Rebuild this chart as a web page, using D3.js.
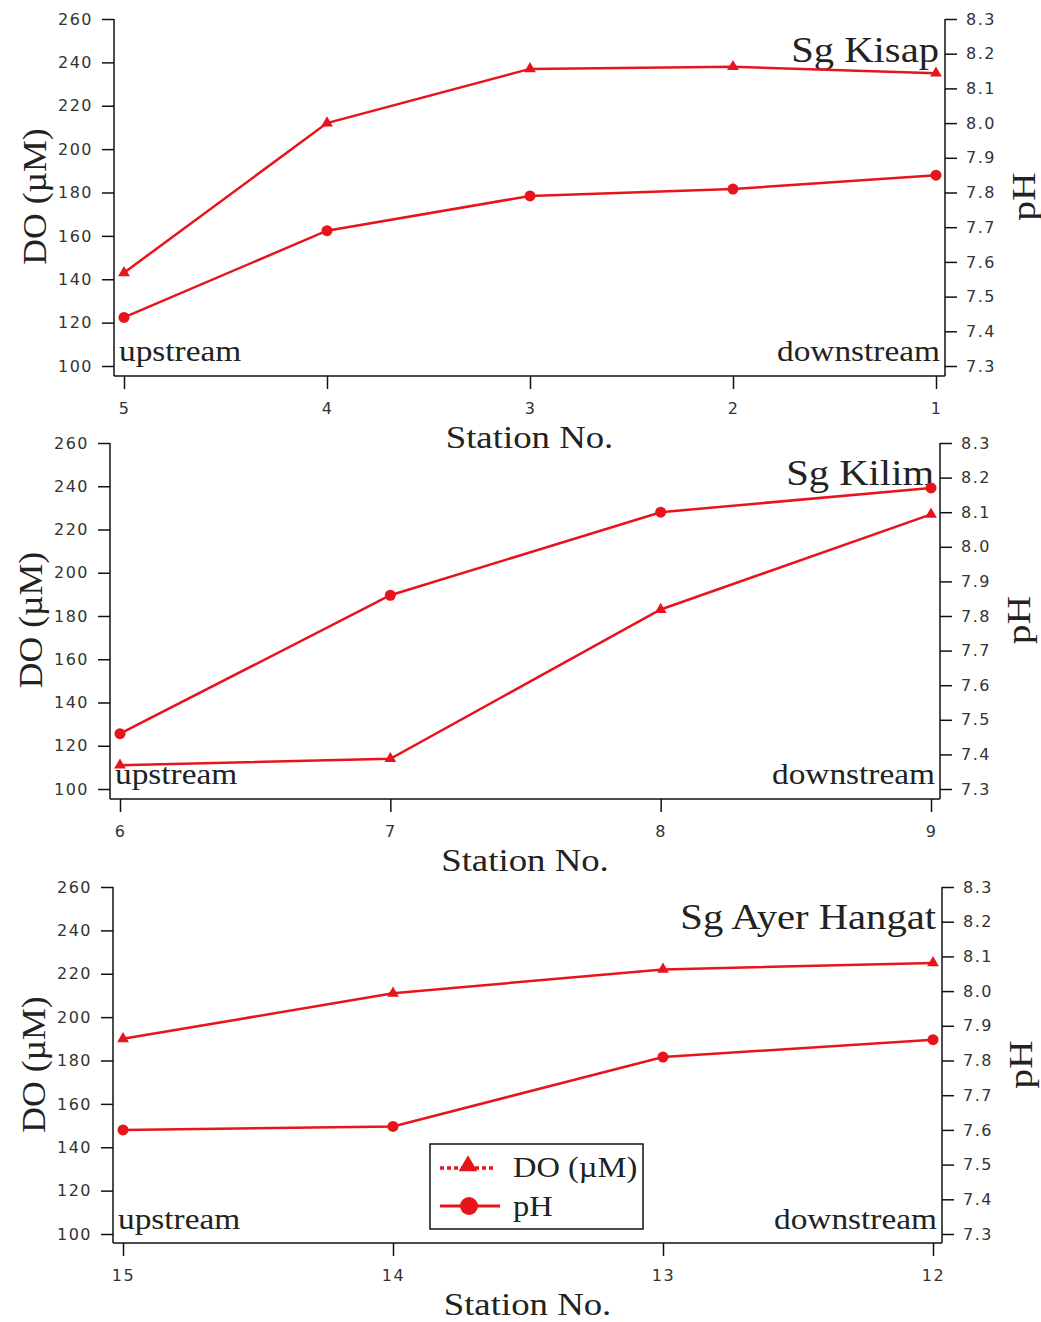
<!DOCTYPE html>
<html>
<head>
<meta charset="utf-8">
<script src="https://cdn.jsdelivr.net/npm/d3@7"></script>
<style>
  body { margin: 0; background: #fff; }
  svg { display: block; }
</style>
</head>
<body>
<div id="chart"></div>
<script>
// values
const doTicks = [100, 120, 140, 160, 180, 200, 220, 240, 260];
const phTicks = [7.3, 7.4, 7.5, 7.6, 7.7, 7.8, 7.9, 8.0, 8.1, 8.2, 8.3];

const kisapStations = ["5", "4", "3", "2", "1"];
const kisapDO = [143, 212, 237, 238, 235];
const kisapPH = [7.44, 7.69, 7.79, 7.81, 7.85];

const kilimStations = ["6", "7", "8", "9"];
const kilimDO = [111, 114, 183, 227];
const kilimPH = [7.46, 7.86, 8.10, 8.17];

const ayerStations = ["15", "14", "13", "12"];
const ayerDO = [190, 211, 222, 225];
const ayerPH = [7.60, 7.61, 7.81, 7.86];

const riverNames = ["Sg Kisap", "Sg Kilim", "Sg Ayer Hangat"];

const width = 1041, height = 1322;
const red = "#e8141c";
const serif = "'Liberation Serif', 'Times New Roman', serif";
const sans = "'DejaVu Sans', Verdana, sans-serif";

// panel frames (pixel layout only)
const frames = [
  {left: 114, right: 945, top: 19, bottom100: 366, axisY: 376, titleY: 62},
  {left: 110, right: 940, top: 443, bottom100: 789, axisY: 799, titleY: 485},
  {left: 113, right: 942, top: 887, bottom100: 1234, axisY: 1243, titleY: 929}
];

const panels = [
  {name: riverNames[0], stations: kisapStations, doVals: kisapDO, phVals: kisapPH},
  {name: riverNames[1], stations: kilimStations, doVals: kilimDO, phVals: kilimPH},
  {name: riverNames[2], stations: ayerStations, doVals: ayerDO, phVals: ayerPH, legend: true}
];

const svg = d3.select("#chart").append("svg")
  .attr("width", width)
  .attr("height", height);

// the original serif looks a little wider than Liberation Serif
function stretch(sel, k) {
  sel.each(function() {
    const len = this.getComputedTextLength();
    d3.select(this).attr("textLength", len * k).attr("lengthAdjust", "spacingAndGlyphs");
  });
  return sel;
}

function serifText(g, size) {
  return g.append("text")
    .style("font-family", serif)
    .style("font-size", size + "px")
    .attr("fill", "#222");
}

const tri = d3.symbol().type(d3.symbolTriangle).size(60);

panels.forEach((p, i) => {
  const f = frames[i];
  const g = svg.append("g");

  const x = d3.scalePoint()
    .domain(p.stations)
    .range([f.left + 10, f.right - 9]);
  const yDO = d3.scaleLinear().domain([100, 260]).range([f.bottom100, f.top]);
  const yPH = d3.scaleLinear().domain([7.3, 8.3]).range([f.bottom100, f.top]);

  // left axis
  const la = g.append("g")
    .attr("transform", `translate(${f.left},0)`)
    .call(d3.axisLeft(yDO).tickValues(doTicks).tickSize(12).tickPadding(9).tickSizeOuter(0));
  la.select(".domain").remove();
  g.append("line")
    .attr("x1", f.left).attr("x2", f.left)
    .attr("y1", f.top).attr("y2", f.axisY)
    .attr("stroke", "#111").attr("stroke-width", 1.5);

  // right axis
  const ra = g.append("g")
    .attr("transform", `translate(${f.right},0)`)
    .call(d3.axisRight(yPH).tickValues(phTicks).tickSize(12).tickPadding(9)
      .tickFormat(d3.format(".1f")).tickSizeOuter(0));
  ra.select(".domain").remove();
  g.append("line")
    .attr("x1", f.right).attr("x2", f.right)
    .attr("y1", f.top).attr("y2", f.axisY)
    .attr("stroke", "#111").attr("stroke-width", 1.5);

  // bottom axis
  const ba = g.append("g")
    .attr("transform", `translate(0,${f.axisY})`)
    .call(d3.axisBottom(x).tickSize(13).tickPadding(14).tickSizeOuter(0));
  ba.select(".domain").remove();
  g.append("line")
    .attr("x1", f.left).attr("x2", f.right)
    .attr("y1", f.axisY).attr("y2", f.axisY)
    .attr("stroke", "#111").attr("stroke-width", 1.5);

  [la, ra, ba].forEach(a => {
    a.selectAll(".tick line").attr("stroke", "#111").attr("stroke-width", 1.5);
    a.selectAll(".tick text")
      .attr("fill", "#333")
      .style("font-family", sans)
      .style("font-size", "16px")
      .style("letter-spacing", "1.5px");
  });

  // axis titles
  stretch(serifText(g, 33)
    .attr("transform", `translate(${f.left - 80},${(f.top + f.bottom100) / 2 + 4}) rotate(-90)`)
    .attr("text-anchor", "middle")
    .attr("dy", "0.35em")
    .text("DO (µM)"), 1.08);
  stretch(serifText(g, 33)
    .attr("transform", `translate(${f.right + 78},${(f.top + f.bottom100) / 2 + 4}) rotate(-90)`)
    .attr("text-anchor", "middle")
    .attr("dy", "0.35em")
    .text("pH"), 1.2);
  stretch(serifText(g, 32)
    .attr("x", (f.left + f.right) / 2)
    .attr("y", f.axisY + 72)
    .attr("text-anchor", "middle")
    .text("Station No."), 1.15);

  // corner notes
  stretch(serifText(g, 29)
    .attr("x", f.left + 5).attr("y", f.bottom100 - 5)
    .text("upstream"), 1.15);
  stretch(serifText(g, 29)
    .attr("x", f.right - 5).attr("y", f.bottom100 - 5)
    .attr("text-anchor", "end")
    .text("downstream"), 1.15);
  stretch(serifText(g, 35)
    .attr("x", f.right - 6).attr("y", f.titleY)
    .attr("text-anchor", "end")
    .text(p.name), 1.16);

  // series
  const doPts = p.stations.map((s, j) => [x(s), yDO(p.doVals[j])]);
  const phPts = p.stations.map((s, j) => [x(s), yPH(p.phVals[j])]);
  const line = d3.line();

  g.append("path").attr("d", line(doPts))
    .attr("fill", "none").attr("stroke", red).attr("stroke-width", 2.5);
  g.append("path").attr("d", line(phPts))
    .attr("fill", "none").attr("stroke", red).attr("stroke-width", 2.5);

  g.selectAll(".tri").data(doPts).join("path")
    .attr("transform", d => `translate(${d[0]},${d[1]})`)
    .attr("d", tri)
    .attr("fill", red);
  g.selectAll(".dot").data(phPts).join("circle")
    .attr("cx", d => d[0]).attr("cy", d => d[1])
    .attr("r", 5.5)
    .attr("fill", red);

  if (p.legend) {
    const lg = g.append("g").attr("transform", "translate(430,1144)");
    lg.append("rect")
      .attr("width", 213).attr("height", 85)
      .attr("fill", "#fff").attr("stroke", "#111").attr("stroke-width", 1.5);
    lg.append("line")
      .attr("x1", 10).attr("x2", 66).attr("y1", 24).attr("y2", 24)
      .attr("stroke", red).attr("stroke-width", 3.5).attr("stroke-dasharray", "4,3");
    lg.append("path")
      .attr("transform", "translate(38,22)")
      .attr("d", d3.symbol().type(d3.symbolTriangle).size(150))
      .attr("fill", red);
    lg.append("line")
      .attr("x1", 10).attr("x2", 70).attr("y1", 62).attr("y2", 62)
      .attr("stroke", red).attr("stroke-width", 3);
    lg.append("circle").attr("cx", 39).attr("cy", 62).attr("r", 9).attr("fill", red);
    stretch(serifText(lg, 29).attr("x", 83).attr("y", 33).text("DO (µM)"), 1.12);
    stretch(serifText(lg, 29).attr("x", 83).attr("y", 72).text("pH"), 1.12);
  }
});
</script>
</body>
</html>
